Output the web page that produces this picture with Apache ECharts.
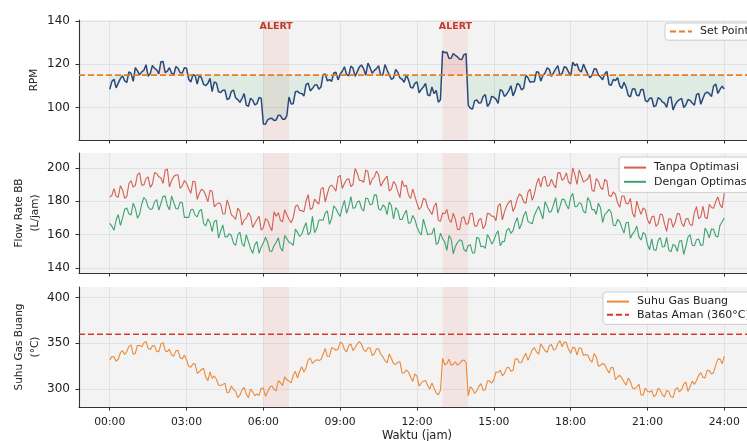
<!DOCTYPE html>
<html><head><meta charset="utf-8">
<script src="https://cdn.jsdelivr.net/npm/echarts@6/dist/echarts.min.js"></script>
<style>html,body{margin:0;padding:0;background:#fff}#c{width:747px;height:441px}</style>
</head><body><div id="c"></div>
<script>
// ---- data: readings every 10 minutes (00:00 .. 24:00) and the in-between 5-minute readings ----
const STEP_HOURS = 1 / 6;
const xTickValues = [0, 3, 6, 9, 12, 15, 18, 21, 24];
const xTickLabels = ['00:00', '03:00', '06:00', '09:00', '12:00', '15:00', '18:00', '21:00', '24:00'];
const alertWindows = [[6, 7], [13, 14]];
const rpmSetPoint = 115;
const suhuLimit = 360;
const rpmTicks = [100, 120, 140];
const flowTicks = [140, 160, 180, 200];
const suhuTicks = [300, 350, 400];

const rpm = [108.5,113.1,111.3,114.7,111.6,115.8,118.5,115.1,117.3,114.5,119.5,117.4,121.2,116.2,118.4,115.2,118.2,116.0,118.2,111.8,114.8,115.0,110.7,111.2,107.4,111.3,107.0,108.0,104.2,108.1,103.7,104.2,101.1,104.3,101.2,104.7,92.4,94.3,95.1,94.2,96.3,94.6,104.9,101.8,107.5,106.5,110.6,107.7,
110.3,108.5,115.2,112.3,112.1,116.3,115.5,118.9,114.6,118.3,116.6,119.7,115.0,118.5,117.2,119.4,115.2,117.4,113.1,117.6,113.7,111.7,112.8,109.0,111.9,108.4,111.2,105.4,106.4,102.4,126.1,125.6,122.8,124.1,122.3,124.5,101.1,99.3,103.5,102.2,106.0,101.9,104.8,101.9,107.7,106.2,110.1,107.7,
110.5,109.0,113.8,112.0,116.6,112.2,116.0,117.7,116.2,119.4,115.8,118.5,114.7,119.4,117.3,120.1,115.6,114.8,117.8,114.1,115.6,110.7,113.0,113.8,108.8,109.4,105.0,108.7,105.5,108.3,102.6,104.4,100.9,103.9,102.0,104.6,98.9,102.9,104.2,101.2,103.3,101.1,106.6,104.2,107.1,105.1,110.9,108.4,108.6];
const rpmHalfStep = [112.0,109.1,113.4,112.3,116.5,112.1,117.0,116.5,119.8,115.7,118.2,115.6,121.3,116.9,115.9,119.0,116.1,118.4,113.1,115.2,110.9,113.7,110.1,113.5,111.9,107.3,108.0,103.7,107.5,104.5,102.4,106.5,100.6,103.4,101.8,104.2,92.3,94.9,94.0,96.5,94.6,96.2,101.7,107.3,106.6,105.3,111.3,108.8,
110.6,109.5,115.5,112.9,116.0,112.8,116.8,115.3,119.2,114.4,118.8,117.9,120.6,115.9,118.0,114.8,119.9,115.1,113.6,116.3,113.1,115.0,109.4,111.2,106.8,109.5,105.9,109.5,108.0,103.6,125.4,122.7,125.0,123.4,122.2,124.9,99.7,103.1,102.1,105.1,100.5,105.2,103.9,108.3,105.1,107.7,105.4,111.2,
108.1,114.9,111.7,111.9,116.3,114.8,118.4,114.4,117.9,114.9,118.9,116.5,121.0,120.2,116.5,117.8,113.8,117.9,115.1,112.9,116.7,110.3,112.5,110.1,111.7,105.5,108.6,105.7,108.3,103.3,104.3,100.4,104.6,102.6,100.1,104.9,101.3,103.7,100.0,103.7,102.1,106.0,101.5,106.6,106.4,110.0,106.5,109.9];

const flowTanpa = [182.5,187.6,182.5,186.9,182.9,192.3,189.6,197.1,189.8,194.7,190.3,196.6,194.0,198.7,188.7,194.9,195.9,189.3,190.8,184.8,191.7,184.7,186.4,179.7,186.1,178.2,178.4,172.4,177.1,170.9,175.9,165.7,169.8,170.9,166.8,171.0,164.3,168.6,162.4,171.1,168.6,174.9,169.3,170.2,177.8,174.4,180.2,175.1,
181.3,178.4,188.4,184.7,189.7,186.1,195.6,190.7,193.6,190.1,196.9,192.5,198.9,189.8,194.5,195.9,191.5,195.1,187.3,190.2,182.2,188.8,183.8,187.4,178.8,176.6,181.1,174.4,176.9,168.7,173.0,175.1,167.3,169.2,163.1,170.7,166.6,173.0,165.1,169.7,165.6,172.5,171.0,177.1,168.9,177.2,180.7,176.8,
184.4,179.6,185.5,180.6,190.4,188.5,195.1,189.5,190.1,197.1,192.6,197.1,190.4,195.9,198.8,191.5,193.4,186.8,193.6,188.3,193.2,183.3,185.7,179.1,183.2,178.7,181.8,170.5,175.6,176.0,169.1,170.6,164.9,172.4,166.5,169.5,164.4,172.7,167.0,169.4,165.9,173.2,169.6,177.2,169.6,176.3,179.9,178.0,185.0];
const flowTanpaHalfStep = [183.5,183.0,189.4,181.8,190.7,188.5,196.0,189.7,193.6,188.4,197.3,194.7,190.7,199.4,192.5,195.8,187.7,192.5,187.6,192.1,181.2,187.2,183.5,186.6,176.7,179.1,172.4,180.9,171.9,169.1,174.1,168.9,173.2,164.3,169.1,162.7,169.6,165.1,173.7,173.2,167.8,172.0,167.2,176.9,174.6,173.8,184.0,176.0,
179.6,187.3,179.6,188.8,188.3,194.6,187.7,192.9,188.8,199.7,192.6,191.4,197.7,193.3,198.1,189.1,193.5,186.2,191.9,185.8,192.4,189.7,181.7,183.0,175.1,181.8,176.3,172.1,179.1,168.1,172.5,169.1,172.9,163.1,170.0,166.2,172.5,165.3,168.8,163.5,172.9,171.1,168.4,178.7,173.7,179.4,173.9,181.5,
183.2,178.8,187.4,184.3,193.9,194.2,189.1,193.3,188.1,197.2,193.8,191.6,200.1,190.1,195.4,192.4,196.2,185.9,192.1,187.1,191.9,182.9,184.2,176.5,183.2,178.6,172.9,180.2,172.2,174.9,166.4,171.2,166.6,171.9,162.0,169.4,167.4,172.5,164.9,169.6,165.5,176.8,170.6,170.4,178.2,175.8,182.7,176.1];

const flowDengan = [166.8,162.6,172.1,169.9,176.0,171.8,175.7,172.3,182.3,176.7,175.6,181.1,178.7,183.1,174.9,179.4,175.5,179.2,170.4,174.9,171.7,174.2,166.7,169.5,161.8,168.6,162.1,158.8,160.6,154.9,159.8,154.7,160.0,151.6,154.0,148.8,155.1,155.5,150.0,155.3,152.1,159.5,155.4,153.6,161.4,160.4,167.2,161.4,
161.2,168.7,168.6,174.2,169.8,175.7,171.0,180.6,176.8,175.8,179.7,175.7,182.0,177.9,183.9,175.6,177.9,172.0,177.3,176.3,169.1,172.3,166.8,171.5,164.6,159.8,164.5,160.4,164.1,155.2,157.6,150.6,157.4,152.9,156.9,151.0,153.5,149.1,158.4,152.7,151.7,157.9,156.5,162.3,155.8,162.4,160.8,167.2,
163.4,171.5,168.0,166.5,174.4,173.3,179.8,173.4,178.1,172.9,181.3,177.8,182.5,176.8,179.1,174.0,182.3,175.0,172.2,176.1,172.2,175.2,165.7,169.1,164.2,167.2,157.8,162.0,158.7,161.3,154.1,157.5,150.5,158.3,152.9,150.9,154.1,149.9,156.4,153.0,160.0,153.3,157.4,153.8,161.6,163.4,159.2,165.6,170.0];
const flowDenganHalfStep = [165.1,168.8,165.5,175.2,172.5,178.9,169.9,178.4,180.8,175.1,179.7,174.7,183.0,177.5,183.2,175.7,179.5,170.4,170.3,175.2,170.7,175.2,165.2,167.3,168.1,157.9,165.9,158.7,159.5,153.5,161.5,153.0,155.8,148.8,155.8,152.6,158.5,150.2,153.5,158.2,150.0,157.6,154.8,163.3,158.9,164.1,159.9,171.0,
163.5,169.0,173.1,166.2,177.3,173.0,176.5,172.8,182.9,176.1,180.2,174.1,181.5,178.3,183.7,174.6,176.6,179.6,169.4,174.5,169.1,174.7,167.2,169.2,161.6,169.3,160.0,160.5,154.1,160.9,155.6,159.5,148.5,155.3,156.4,149.9,154.0,149.0,157.7,153.1,160.1,154.3,160.2,153.4,156.0,163.8,162.4,170.2,
166.4,174.0,167.1,171.6,177.0,169.4,177.1,174.1,182.2,176.9,181.1,175.4,184.8,177.0,178.5,173.0,180.2,175.1,178.9,167.3,173.4,173.3,165.4,167.8,160.9,167.5,160.5,165.2,156.8,160.2,150.9,150.9,156.4,152.6,158.3,149.7,153.5,156.2,148.1,158.5,153.6,157.0,153.5,164.0,158.1,163.2,158.6,167.7];

const suhu = [331.5,335.3,332.6,341.9,341.0,348.3,339.1,347.6,350.4,344.3,347.2,341.2,349.4,341.8,343.7,336.0,342.5,332.9,332.0,323.9,327.6,318.9,322.5,309.2,311.6,310.7,303.9,306.4,296.8,299.6,290.7,298.8,294.4,300.1,292.7,293.0,301.0,297.0,303.4,298.0,306.9,313.3,308.7,315.1,312.1,324.4,323.4,333.8,
330.4,331.3,338.1,335.6,345.2,342.4,351.3,343.2,347.6,341.9,349.3,349.0,341.0,345.0,338.6,344.0,335.1,328.7,333.3,326.9,329.9,317.6,318.6,308.2,314.2,306.7,309.4,300.1,301.0,293.7,333.5,328.0,326.0,329.6,328.0,331.8,292.6,300.2,298.3,306.0,299.5,309.1,310.0,318.1,314.4,323.1,319.5,332.8,
328.7,334.8,331.3,342.8,340.6,349.6,341.8,347.4,342.6,349.5,346.2,350.9,339.1,345.0,345.2,336.7,337.2,329.1,335.4,326.0,326.5,317.6,323.3,313.2,312.0,304.2,308.4,300.5,305.3,293.4,297.6,298.6,293.9,298.8,291.6,297.0,290.7,301.4,299.6,307.7,302.7,305.1,315.0,312.8,320.6,316.4,326.1,333.0,336.0];
const suhuHalfStep = [335.5,330.4,339.7,337.9,346.6,337.9,347.6,346.3,352.1,343.1,347.3,340.8,350.9,340.8,337.1,341.7,334.4,337.3,325.0,327.5,317.3,321.5,313.0,318.7,314.3,304.4,305.1,295.9,303.3,297.4,293.3,301.8,290.5,296.9,294.8,300.9,292.0,301.9,299.9,309.3,303.8,310.1,306.7,319.4,319.5,318.5,331.9,328.0,
332.1,332.2,344.3,335.9,344.4,343.5,350.0,340.7,349.3,345.3,351.9,342.8,344.9,336.6,343.9,338.3,331.2,338.3,328.0,329.1,317.7,320.9,313.4,316.7,303.1,308.6,303.7,306.7,295.7,298.6,326.6,332.6,327.0,326.1,330.8,328.9,302.6,295.1,302.9,298.5,308.8,306.5,318.7,320.8,317.1,323.9,320.5,333.2,
329.1,339.0,337.1,345.3,338.2,345.7,340.2,348.7,343.9,352.9,351.3,343.4,345.5,337.0,344.3,337.7,332.2,338.7,324.8,327.9,321.9,323.7,310.2,315.1,307.9,312.0,301.1,302.1,293.5,301.2,296.7,291.4,300.9,293.7,298.6,291.5,299.4,296.9,305.5,297.5,308.6,309.3,317.9,312.2,320.1,317.9,332.7,327.6];

// ---- helpers ----
const X_MIN = -1.2, X_MAX = 25.2;
function pairs(onTen, half) {
  const out = [];
  onTen.forEach((v, i) => {
    out.push([i * STEP_HOURS, v]);
    if (half && i < half.length) out.push([(i + 0.5) * STEP_HOURS, half[i]]);
  });
  return out;
}
const FONT = 'DejaVu Sans';
const GRID_TOPS = [20, 153, 287];
const GRID_H = 120;

const chart = echarts.init(document.getElementById('c'), null, {renderer: 'canvas'});

const grids = GRID_TOPS.map(t => ({
  left: 79, right: -8, top: t, height: GRID_H, show: true,
  backgroundColor: '#f3f3f3', borderWidth: 0, containLabel: false, outerBoundsMode: 'none'
}));

const xAxes = [0, 1, 2].map(i => ({
  type: 'value', gridIndex: i, min: X_MIN, max: X_MAX,
  axisLine: {show: true, onZero: false, lineStyle: {color: '#333', width: 1.1}},
  axisTick: {show: true, customValues: xTickValues, length: 3.5, lineStyle: {color: '#333', width: 1}},
  axisLabel: {show: i === 2, customValues: xTickValues, margin: 10,
    formatter: v => xTickLabels[xTickValues.indexOf(Math.round(v))] || '',
    fontFamily: FONT, fontSize: 10.8, color: '#222'},
  splitLine: {show: true, lineStyle: {color: '#dcdde3', width: 0.8}},
  name: i === 2 ? 'Waktu (jam)' : '', nameLocation: 'middle', nameGap: 23, nameMoveOverlap: false,
  nameTextStyle: {fontFamily: FONT, fontSize: 11.5, color: '#222'}
}));

function yAxis(i, min, max, ticks, name, gap) {
  return {
    type: 'value', gridIndex: i, min: min, max: max,
    axisLine: {show: true, onZero: false, lineStyle: {color: '#333', width: 1.1}},
    axisTick: {show: true, customValues: ticks, length: 3.5, lineStyle: {color: '#333', width: 1}},
    axisLabel: {show: true, customValues: ticks, margin: 9, fontFamily: FONT, fontSize: 12, color: '#222'},
    splitLine: {show: true, lineStyle: {color: '#dcdde3', width: 0.8}},
    name: name, nameLocation: 'middle', nameRotate: 90, nameGap: gap, nameMoveOverlap: false,
    nameTextStyle: {fontFamily: FONT, fontSize: 10.5, color: '#222', lineHeight: 16, align: 'center'}
  };
}

const alertArea = withLabel => ({
  silent: true,
  itemStyle: {color: 'rgba(231,76,60,0.09)'},
  label: withLabel ? {show: true, position: 'insideTop', distance: 2, formatter: 'ALERT',
    color: '#c0392b', fontWeight: 'bold', fontFamily: FONT, fontSize: 9.5} : {show: false},
  data: alertWindows.map(w => [{xAxis: w[0]}, {xAxis: w[1]}])
});

const legendBase = {
  orient: 'vertical', itemWidth: 22, itemHeight: 14, itemGap: 2,
  itemStyle: {opacity: 0},
  backgroundColor: 'rgba(255,255,255,0.85)', borderColor: '#cccccc', borderWidth: 1, borderRadius: 3,
  textStyle: {fontFamily: FONT, fontSize: 11, color: '#222', padding: [0, 0, 0, 3]}
};

const option = {
  animation: false,
  backgroundColor: '#ffffff',
  grid: grids,
  xAxis: xAxes,
  yAxis: [
    yAxis(0, 85, 140.5, rpmTicks, 'RPM', 37),
    yAxis(1, 137, 209, flowTicks, 'Flow Rate BB\n(L/jam)', 36),
    yAxis(2, 280.4, 411.5, suhuTicks, 'Suhu Gas Buang\n(°C)', 36)
  ],
  legend: [
    Object.assign({}, legendBase, {left: 665, top: 23, padding: [3, 4], data: ['Set Point']}),
    Object.assign({}, legendBase, {left: 619, top: 157, padding: [5, 4], itemGap: 3, data: ['Tanpa Optimasi', 'Dengan Optimasi']}),
    Object.assign({}, legendBase, {left: 603, top: 292, padding: [4, 3], data: ['Suhu Gas Buang', 'Batas Aman (360°C)']})
  ],
  series: [
    {name: 'fillBelow', type: 'line', xAxisIndex: 0, yAxisIndex: 0, symbol: 'none', silent: true, z: 1,
      data: pairs(rpm.map(v => Math.min(v, rpmSetPoint)), rpmHalfStep.map(v => Math.min(v, rpmSetPoint))),
      lineStyle: {width: 0, opacity: 0}, areaStyle: {origin: rpmSetPoint, color: 'rgba(39,174,96,0.15)'},
      markArea: alertArea(true)},
    {name: 'fillAbove', type: 'line', xAxisIndex: 0, yAxisIndex: 0, symbol: 'none', silent: true, z: 1,
      data: pairs(rpm.map(v => Math.max(v, rpmSetPoint)), rpmHalfStep.map(v => Math.max(v, rpmSetPoint))),
      lineStyle: {width: 0, opacity: 0}, areaStyle: {origin: rpmSetPoint, color: 'rgba(231,76,60,0.15)'}},
    {name: 'RPM', type: 'line', xAxisIndex: 0, yAxisIndex: 0, symbol: 'none', z: 3,
      data: pairs(rpm, rpmHalfStep), lineStyle: {color: '#2a4a7b', width: 1.5}},
    {name: 'Set Point', type: 'line', xAxisIndex: 0, yAxisIndex: 0, symbol: 'none', z: 4,
      data: [[X_MIN, rpmSetPoint], [X_MAX, rpmSetPoint]], itemStyle: {color: '#e67e22'},
      lineStyle: {color: '#e67e22', width: 1.8, type: [6, 3]}},

    {name: 'Tanpa Optimasi', type: 'line', xAxisIndex: 1, yAxisIndex: 1, symbol: 'none', z: 3,
      data: pairs(flowTanpa, flowTanpaHalfStep), itemStyle: {color: '#d35f50'}, lineStyle: {color: '#d35f50', width: 1.1},
      markArea: alertArea(false)},
    {name: 'Dengan Optimasi', type: 'line', xAxisIndex: 1, yAxisIndex: 1, symbol: 'none', z: 3,
      data: pairs(flowDengan, flowDenganHalfStep), itemStyle: {color: '#3ba271'}, lineStyle: {color: '#3ba271', width: 1.1}},

    {name: 'Suhu Gas Buang', type: 'line', xAxisIndex: 2, yAxisIndex: 2, symbol: 'none', z: 3,
      data: pairs(suhu, suhuHalfStep), itemStyle: {color: '#ea8a3a'}, lineStyle: {color: '#ea8a3a', width: 1.1},
      markArea: alertArea(false)},
    {name: 'Batas Aman (360°C)', type: 'line', xAxisIndex: 2, yAxisIndex: 2, symbol: 'none', z: 4,
      data: [[X_MIN, suhuLimit], [X_MAX, suhuLimit]], itemStyle: {color: '#d63a2f'},
      lineStyle: {color: '#d63a2f', width: 1.5, type: [6, 3]}}
  ]
};
chart.setOption(option);
</script>
</body></html>
